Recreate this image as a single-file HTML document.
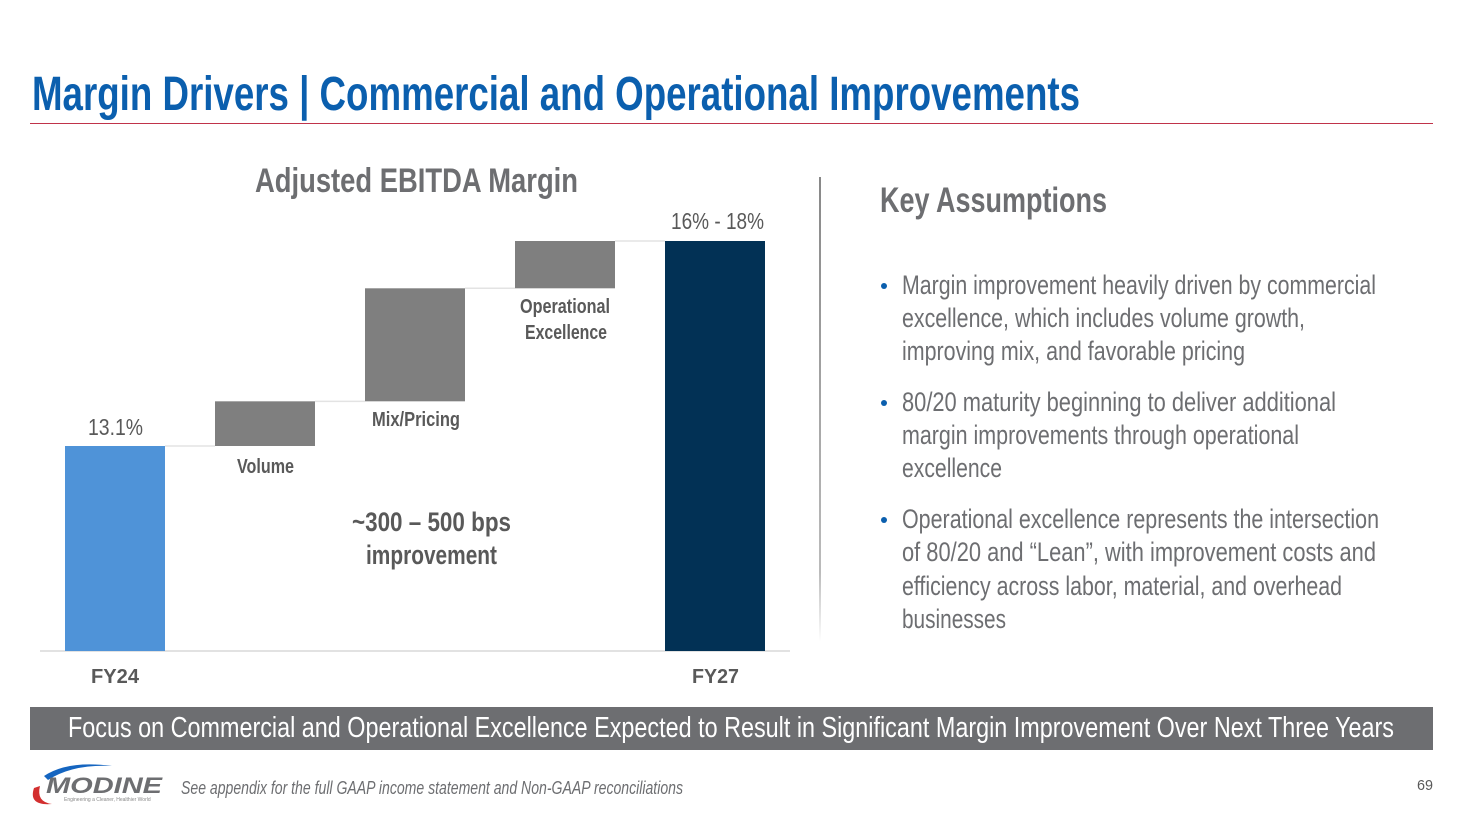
<!DOCTYPE html>
<html><head><meta charset="utf-8"><style>
body{margin:0;width:1463px;height:820px;overflow:hidden;background:#fff;position:relative;font-family:"Liberation Sans Narrow","Liberation Sans",sans-serif}
.t{position:absolute;white-space:nowrap;transform-origin:0 50%;color:#6d6e71}
</style></head><body>
<div class="t" style="left:32px;top:71px;font-size:48px;line-height:48px;color:#0b5fae;font-weight:bold" data-w="1048">Margin Drivers | Commercial and Operational Improvements</div>
<div style="position:absolute;left:30px;top:123px;width:1403px;height:1px;background:#c0334a"></div>

<div class="t" style="left:255px;top:164px;font-size:34px;line-height:34px;font-weight:bold" data-w="323">Adjusted EBITDA Margin</div>

<svg id="chart" width="820" height="700" style="position:absolute;left:0;top:0"></svg>

<div class="t" style="left:671px;top:210px;font-size:23px;line-height:23px;color:#595959" data-w="93">16% - 18%</div>
<div class="t" style="left:88px;top:416px;font-size:23px;line-height:23px;color:#595959" data-w="55">13.1%</div>
<div class="t" style="left:237px;top:457px;font-size:20px;line-height:20px;color:#595959;font-weight:bold" data-w="57">Volume</div>
<div class="t" style="left:372px;top:410px;font-size:20px;line-height:20px;color:#595959;font-weight:bold" data-w="88">Mix/Pricing</div>
<div class="t" style="left:520px;top:297px;font-size:20px;line-height:20px;color:#595959;font-weight:bold" data-w="90">Operational</div>
<div class="t" style="left:525px;top:323px;font-size:20px;line-height:20px;color:#595959;font-weight:bold" data-w="82">Excellence</div>
<div class="t" style="left:352px;top:509px;font-size:27px;line-height:27px;color:#595959;font-weight:bold" data-w="159">~300 – 500 bps</div>
<div class="t" style="left:366px;top:542px;font-size:27px;line-height:27px;color:#595959;font-weight:bold" data-w="131">improvement</div>
<div class="t" style="left:91px;top:667px;font-size:20px;line-height:20px;font-weight:bold;color:#595959" data-w="48">FY24</div>
<div class="t" style="left:692px;top:667px;font-size:20px;line-height:20px;font-weight:bold;color:#595959" data-w="47">FY27</div>

<div style="position:absolute;left:819px;top:177px;width:2px;height:465px;background:linear-gradient(#888,#bbb 85%,#fff)"></div>

<div class="t" style="left:880px;top:183px;font-size:35px;line-height:35px;font-weight:bold" data-w="227">Key Assumptions</div>

<div style="position:absolute;left:881px;top:283px;width:6px;height:6px;border-radius:50%;background:#0b5fae"></div>
<div style="position:absolute;left:881px;top:400px;width:6px;height:6px;border-radius:50%;background:#0b5fae"></div>
<div style="position:absolute;left:881px;top:517px;width:6px;height:6px;border-radius:50%;background:#0b5fae"></div>
<div class="t" style="left:902px;top:272px;font-size:27px;line-height:27px" data-w="474">Margin improvement heavily driven by commercial</div>
<div class="t" style="left:902px;top:305px;font-size:27px;line-height:27px" data-w="403">excellence, which includes volume growth,</div>
<div class="t" style="left:902px;top:338px;font-size:27px;line-height:27px" data-w="343">improving mix, and favorable pricing</div>
<div class="t" style="left:902px;top:389px;font-size:27px;line-height:27px" data-w="434">80/20 maturity beginning to deliver additional</div>
<div class="t" style="left:902px;top:422px;font-size:27px;line-height:27px" data-w="397">margin improvements through operational</div>
<div class="t" style="left:902px;top:455px;font-size:27px;line-height:27px" data-w="100">excellence</div>
<div class="t" style="left:902px;top:506px;font-size:27px;line-height:27px" data-w="477">Operational excellence represents the intersection</div>
<div class="t" style="left:902px;top:539px;font-size:27px;line-height:27px" data-w="474">of 80/20 and “Lean”, with improvement costs and</div>
<div class="t" style="left:902px;top:573px;font-size:27px;line-height:27px" data-w="440">efficiency across labor, material, and overhead</div>
<div class="t" style="left:902px;top:606px;font-size:27px;line-height:27px" data-w="104">businesses</div>

<div style="position:absolute;left:30px;top:707px;width:1403px;height:43px;background:#6d6e71"></div>
<div class="t" style="left:68px;top:714px;font-size:29px;line-height:29px;color:#fff" data-w="1326">Focus on Commercial and Operational Excellence Expected to Result in Significant Margin Improvement Over Next Three Years</div>

<svg width="140" height="50" style="position:absolute;left:28px;top:760px">
<path d="M16 16 Q40 0 84 6 Q45 4 20 20 Z" fill="#1565c0"/>
<path d="M6 28 Q0 46 24 44 Q8 42 12 26 Z" fill="#d32f2f"/>
<text x="18" y="33" font-family="Liberation Sans" font-weight="bold" font-style="italic" font-size="22" fill="#6d6e71" textLength="116" lengthAdjust="spacingAndGlyphs">MODINE</text>
<text x="36" y="41" font-family="Liberation Sans" font-size="5" fill="#888">Engineering a Cleaner, Healthier World</text>
</svg>
<div class="t" style="left:181px;top:779px;font-size:18px;line-height:18px;font-style:italic" data-w="502">See appendix for the full GAAP income statement and Non-GAAP reconciliations</div>
<div class="t" style="left:1417px;top:778px;font-size:15px;line-height:15px;color:#595959" data-w="16">69</div>

<script>
const categories = ["FY24","Volume","Mix/Pricing","Operational Excellence","FY27"];
const startValue = 13.1;
const increments = [0.85, 2.15, 0.9];
const endValue = 17.0;

const NS = "http://www.w3.org/2000/svg";
const svg = document.getElementById("chart");
const yMin = 9.2, yMax = 17.0, yBase = 651, yTop = 241;
function y(v){ return yBase - (v - yMin) / (yMax - yMin) * (yBase - yTop); }
function x(i){ return 65 + i * 150; }
const bw = 100;
function rect(xx, yy, w, h, fill, name){
  const r = document.createElementNS(NS, "rect");
  r.setAttribute("x", xx); r.setAttribute("y", yy);
  r.setAttribute("width", w); r.setAttribute("height", Math.max(0, h));
  r.setAttribute("fill", fill);
  
  
  svg.appendChild(r);
}
function line(x1, y1, x2, y2, c, name){
  const l = document.createElementNS(NS, "line");
  l.setAttribute("x1", x1); l.setAttribute("y1", y1);
  l.setAttribute("x2", x2); l.setAttribute("y2", y2);
  l.setAttribute("stroke", c); l.setAttribute("stroke-width", 1.5);
  
  
  svg.appendChild(l);
}
line(40, yBase, 790, yBase, "#d9d9d9", "x-axis-line");
rect(x(0), y(startValue), bw, yBase - y(startValue), "#4f93d8", "bar-fy24");
let cum = startValue;
increments.forEach((inc, i) => {
  line(x(i) + bw, y(cum), x(i + 1), y(cum), "#e3e3e3", "connector-" + (i + 1));
  rect(x(i + 1), y(cum + inc), bw, y(cum) - y(cum + inc), "#7f7f7f", "bar-step-" + (i + 1));
  cum += inc;
});
line(x(3) + bw, y(cum), x(4), y(cum), "#e3e3e3", "connector-4");
rect(x(4), y(endValue), bw, yBase - y(endValue), "#023155", "bar-fy27");

document.querySelectorAll(".t").forEach(el => {
  const w = parseFloat(el.dataset.w);
  const nat = el.getBoundingClientRect().width;
  if (w && nat) el.style.transform = "scaleX(" + (w / nat) + ")";
});
</script>
</body></html>
